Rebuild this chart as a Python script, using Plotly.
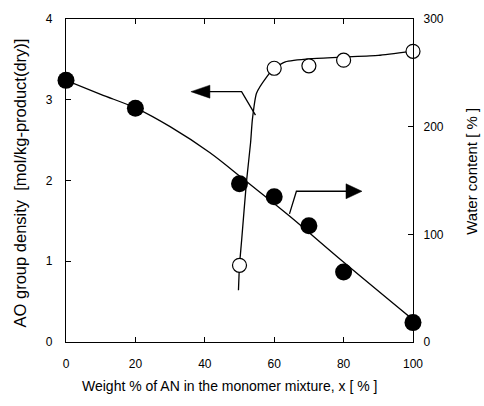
import plotly.graph_objects as go

# AN content of the monomer mixture [%]
an_open = [50, 60, 70, 80, 100]
ao_density = [0.95, 3.39, 3.42, 3.49, 3.60]          # mol/kg-product(dry)

an_filled = [0, 20, 50, 60, 70, 80, 100]
water_content = [243, 217, 147, 135, 108, 65, 18]    # %

# hand-drawn trend curves
ao_curve_x = [49.7, 50.0, 50.6, 52.0, 53.2, 53.7, 54.9, 57.8, 60.0, 63.2, 70.7, 80.5, 90.0, 99.6]
ao_curve_y = [0.64, 0.95, 1.25, 1.98, 2.47, 2.75, 3.08, 3.28, 3.39, 3.47, 3.51, 3.53, 3.55, 3.60]
water_curve_x = [0, 10.0, 20.3, 30.0, 41.4, 52.0, 64.4, 79.7, 99.9]
water_curve_y = [243, 230, 217, 200, 176, 149, 117, 75, 21]

x_ticks = [0, 20, 40, 60, 80, 100]
ao_ticks = [0, 1, 2, 3, 4]
water_ticks = [0, 100, 200, 300]

FONT = "Liberation Sans, Arial, sans-serif"
INK = "black"

fig = go.Figure()

fig.add_trace(go.Scatter(x=ao_curve_x, y=ao_curve_y, mode="lines",
                         line=dict(color=INK, width=1.3, shape="spline", smoothing=0.5),
                         hoverinfo="skip", showlegend=False))
fig.add_trace(go.Scatter(x=water_curve_x, y=water_curve_y, mode="lines", yaxis="y2",
                         line=dict(color=INK, width=1.3, shape="spline", smoothing=1.0),
                         hoverinfo="skip", showlegend=False))
fig.add_trace(go.Scatter(x=an_open, y=ao_density, mode="markers", name="AO group density",
                         marker=dict(symbol="circle", size=14, color="white",
                                     line=dict(color=INK, width=1.2)),
                         cliponaxis=False, showlegend=False))
fig.add_trace(go.Scatter(x=an_filled, y=water_content, mode="markers", yaxis="y2",
                         name="Water content",
                         marker=dict(symbol="circle", size=17, color=INK,
                                     line=dict(color=INK, width=0)),
                         cliponaxis=False, showlegend=False))

# pointer arrows telling which axis each curve belongs to
line_style = dict(color=INK, width=1.3)
fig.add_shape(type="path", xref="x", yref="y",
              path="M 54.6 2.81 L 50.6 3.10 L 40.5 3.10", line=line_style)
fig.add_shape(type="path", xref="x", yref="y", xsizemode="pixel", ysizemode="pixel",
              xanchor=36.0, yanchor=3.10, path="M 0 0 L 19 6.5 L 19 -6.5 Z",
              fillcolor=INK, line=dict(color=INK, width=0.5))
fig.add_shape(type="path", xref="x", yref="y2",
              path="M 64.4 119 L 66.4 140 L 81 140", line=line_style)
fig.add_shape(type="path", xref="x", yref="y2", xsizemode="pixel", ysizemode="pixel",
              xanchor=85.3, yanchor=140, path="M 0 0 L -16 7.5 L -16 -7.5 Z",
              fillcolor=INK, line=dict(color=INK, width=0.5))

axis_common = dict(showgrid=False, zeroline=False, showline=True, linecolor=INK,
                   linewidth=1.2, ticks="inside", ticklen=5, tickwidth=1,
                   tickcolor=INK, tickfont=dict(family=FONT, size=12, color=INK))

fig.update_layout(
    width=484, height=406,
    margin=dict(l=66, r=71, t=14, b=64),
    paper_bgcolor="white", plot_bgcolor="white",
    xaxis=dict(range=[0, 100], tickvals=x_ticks, mirror="ticks",
               ticklabelstandoff=10, **axis_common),
    yaxis=dict(range=[0, 4], tickvals=ao_ticks, ticklabelstandoff=10, **axis_common),
    yaxis2=dict(range=[0, 300], tickvals=water_ticks, overlaying="y", side="right",
                ticklabelstandoff=7, **axis_common),
    font=dict(family=FONT, color=INK),
    annotations=[
        dict(text="Weight % of AN in the monomer mixture, x [ % ]", xref="paper",
             yref="paper", x=0.4726, y=-0.137, xanchor="center", yanchor="middle",
             showarrow=False, font=dict(family=FONT, size=14, color=INK)),
        dict(text="AO group density  [mol/kg-product(dry)]", xref="paper", yref="paper",
             x=-0.1326, y=0.494, xanchor="center", yanchor="middle", textangle=-90,
             showarrow=False, font=dict(family=FONT, size=16.5, color=INK)),
        dict(text="Water content [ % ]", xref="paper", yref="paper",
             x=1.170, y=0.53, xanchor="center", yanchor="middle", textangle=-90,
             showarrow=False, font=dict(family=FONT, size=15, color=INK)),
    ],
)

fig.write_html("out.html")
